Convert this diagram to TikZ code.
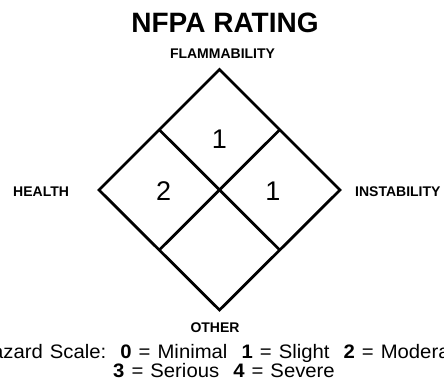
\documentclass[tikz,border=0pt]{standalone}
\usepackage{fontspec}
\setmainfont{Liberation Sans}
\newfontfamily\legendfont[FakeStretch=1.04, WordSpace=1.25]{Liberation Sans}
\usetikzlibrary{calc}
\begin{document}
\begin{tikzpicture}[
        x=1pt, y=-1pt,
        every node/.style={inner sep=0pt},
        rim/.style={line width=2.8pt, line join=miter},
        headtext/.style={font=\fontsize{28}{30}\selectfont\bfseries},
        side/.style={font=\fontsize{14}{16}\selectfont\bfseries},
        rating/.style={font=\fontsize{27}{29}\selectfont},
        legend/.style={font=\legendfont\fontsize{19.5}{21}\selectfont, anchor=base}
      ]
    \useasboundingbox (0,0) rectangle (444,383);
    \clip (0,0) rectangle (444,383);
    % outer diamond
    \coordinate (top) at (219.5,69.5);
    \coordinate (left) at (99,190);
    \coordinate (right) at (340,190);
    \coordinate (bottom) at (219.5,310);
    \draw[rim] (top) -- (right) -- (bottom) -- (left) -- cycle;
    % inner split
    \draw[rim] ($(top)!0.5!(left)$) -- ($(right)!0.5!(bottom)$);
    \draw[rim] ($(top)!0.5!(right)$) -- ($(left)!0.5!(bottom)$);
    \node[headtext] (head) at (225,23) {NFPA RATING};
    \node[side] (flam) at (222.5,54) {FLAMMABILITY};
    \node[side, anchor=west] (health) at (13,191.5) {HEALTH};
    \node[side, anchor=west] (inst) at (355,191.5) {INSTABILITY};
    \node[side] (other) at (215,327.5) {OTHER};
    \node[rating] (fire) at (219.5,139.7) {1};
    \node[rating] (hlth) at (163.7,191) {2};
    \node[rating] (inst1) at (273,191) {1};
    \node[legend] (line1) at (222,358)
    {Hazard Scale:\ \ {\bfseries 0} = Minimal\ \ {\bfseries 1} = Slight\ \ {\bfseries 2} = Moderate};
    \node[legend] (line2) at (224,377.5)
    {{\bfseries 3} = Serious\ \ {\bfseries 4} = Severe};
      \end{tikzpicture}
\end{document}
